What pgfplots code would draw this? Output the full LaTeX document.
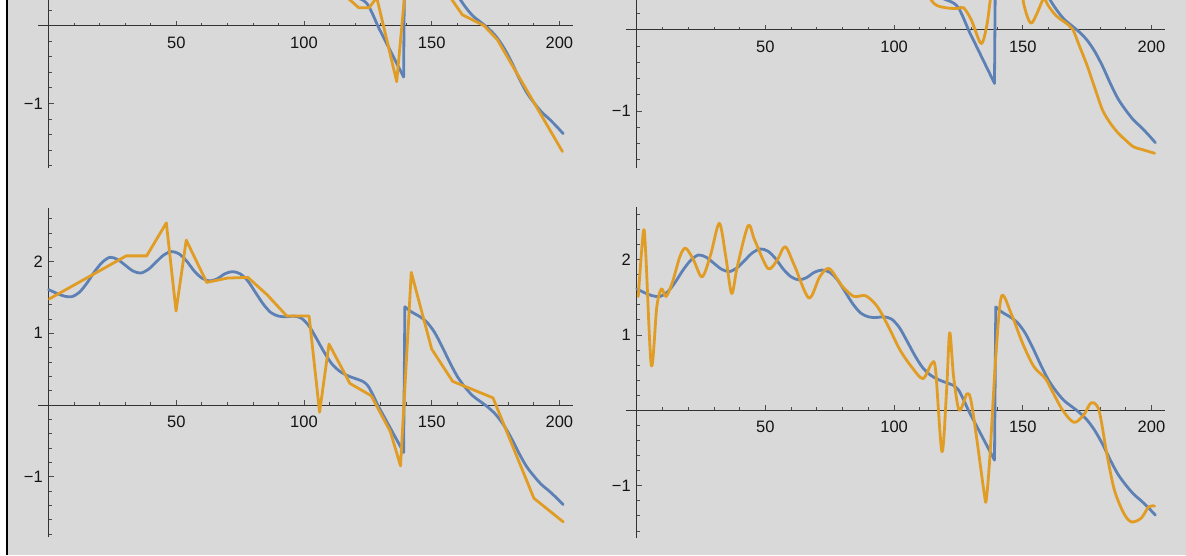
\documentclass[border=0pt]{standalone}
\usepackage{fontspec}
\setmainfont{Liberation Sans}
\usepackage{pgfplots}
\usepackage{pgfplotstable}
\pgfplotsset{compat=1.18}
\definecolor{mmaB}{RGB}{94,129,181}
\definecolor{mmaO}{RGB}{225,156,36}
\definecolor{bg}{RGB}{217,217,217}

% the common blue curve, with its jump at x=139
\pgfplotstableread{
x y
0 1.61
3 1.56
6 1.52
9 1.51
12 1.57
15 1.70
18 1.86
21 1.99
24 2.06
27 2.03
30 1.95
33 1.87
36 1.84
39 1.89
42 1.99
45 2.09
48 2.14
51 2.11
54 2.01
57 1.87
60 1.77
63 1.73
66 1.76
69 1.83
72 1.86
75 1.83
78 1.73
81 1.57
84 1.41
87 1.29
90 1.24
93 1.23
96 1.24
99 1.21
102 1.10
105 0.92
108 0.73
111 0.57
114 0.47
117 0.41
120 0.37
123 0.33
125 0.27
127 0.14
129 -0.01
131 -0.14
133 -0.27
135 -0.40
137 -0.53
139 -0.66
}\blueA
\pgfplotstableread{
x y
139.5 1.37
142 1.30
145 1.24
148 1.16
151 1.02
154 0.82
157 0.60
160 0.40
163 0.25
166 0.13
169 0.05
172 -0.03
175 -0.13
178 -0.27
181 -0.45
184 -0.66
187 -0.85
190 -0.99
193 -1.11
196 -1.20
199 -1.30
201.5 -1.39
}\blueB
\pgfplotstableread{
x y
139 -0.66
139.5 1.37
}\blueJ

% top left orange (piecewise linear, mostly above the crop)
\pgfplotstableread{
x y
110 0.90
117 0.36
121.5 0.23
125.5 0.23
127.5 0.32
128.5 0.36
136.3 -0.72
140 0.60
144 1.50
152 1.20
158 0.33
162 0.14
170.5 0.00
175.7 -0.18
201.2 -1.62
}\orTL

% top right orange (smooth, mostly above the crop)
\pgfplotstableread{
x y
108 0.90
113 0.45
116 0.31
120 0.27
124.6 0.26
127 0.27
130 0.12
133.8 -0.17
136 0.05
137.5 0.40
140 1.00
147 0.90
150.5 0.30
153.1 0.08
155.5 0.20
157.5 0.35
158.5 0.38
159.8 0.30
163 0.17
167.7 0.06
169.5 0.00
172 -0.20
175.1 -0.45
178 -0.72
181 -0.99
184 -1.15
187 -1.27
190 -1.36
193 -1.44
197 -1.48
201.2 -1.52
}\orTR

% bottom left orange (piecewise linear)
\pgfplotstableread{
x y
0.3 1.48
30.4 2.08
38.4 2.08
46.1 2.54
49.9 1.31
53.9 2.30
61.9 1.71
70 1.77
78 1.78
85.5 1.54
93.3 1.24
102 1.24
106.1 -0.10
109.8 0.85
118 0.30
126.3 0.13
133.8 -0.37
137.8 -0.85
142 1.85
150 0.78
158.2 0.33
174 0.10
190 -1.30
201.5 -1.63
}\orBL

% bottom right orange (smooth)
\pgfplotstableread{
x y
0.6 1.51
2.6 2.37
3.5 2.09
5.7 0.59
7.8 1.37
9.6 1.61
11.4 1.51
13.8 1.69
16.8 2.04
19 2.15
22 2.00
25.4 1.77
28.7 2.06
32.1 2.48
34.6 2.04
36.9 1.55
39.1 1.91
43.3 2.45
45.8 2.26
51 1.88
54.7 2.00
57.7 2.17
61.4 1.91
66.9 1.49
71.1 1.77
74.8 1.88
80 1.64
84.4 1.51
88.9 1.52
93.4 1.38
97.8 1.11
102.3 0.80
106.7 0.58
111.2 0.42
114.6 0.62
116.1 0.54
118.6 -0.55
120.4 0.27
121.6 1.03
123.1 0.45
125.3 0.00
128.3 0.22
129.8 0.14
132 -0.35
135 -1.10
135.8 -1.19
137.2 -0.62
139.5 0.71
141.7 1.51
145.4 1.29
149.9 0.89
154.3 0.58
158.8 0.42
161.8 0.23
165.5 0.00
169.9 -0.16
173.7 -0.06
176.6 0.10
179.6 0.00
182.6 -0.57
185.6 -1.06
189.3 -1.37
192.2 -1.48
196 -1.43
198.9 -1.28
201.2 -1.27
}\orBR

\pgfplotsset{mma/.style={
  axis lines=middle,
  axis line style={-, black!80, line width=0.9pt},
  every inner x axis line/.append style={-},
  every inner y axis line/.append style={-},
  tick align=inside,
  tick style={black!70, line width=0.8pt},
  major tick length=5pt, minor tick length=3pt,
  xtick={50,100,150,200}, xticklabels={50,100,150,200},
  minor xtick={10,20,...,200},
  ytick={-1,1,2}, yticklabels={−1,1,2},
  minor ytick={-1.8,-1.6,...,2.61},
  tick label style={font=\fontsize{16.5}{18}\selectfont, text=black!92},
  xticklabel style={anchor=north, inner sep=0pt, yshift=-10.7pt},
  yticklabel style={anchor=east, inner sep=0pt, xshift=-5.7pt},
  xmin=-4, xmax=205.4,
  anchor=south west,
  every axis plot/.append style={line width=2.8pt, line join=round, line cap=round, no marks},
}}

\begin{document}
\begin{tikzpicture}[x=1pt,y=1pt]
\useasboundingbox (0,0) rectangle (1186,555);
\clip (0,0) rectangle (1186,555);
\fill[white] (0,0) rectangle (8,555);
\fill[bg] (6,0) rectangle (1186,555);
\draw[black, line width=2.3pt] (6.9,0) -- (6.9,555);

% top left (cut off above y = 0.33)
\begin{axis}[mma, at={(38.38pt,387.11pt)}, x=2.554pt, y=77.7pt, ymin=-1.83, ymax=2.74,
  ytick={-1}, yticklabels={−1}]
  \addplot[mmaB, smooth] table {\blueA};
  \addplot[mmaB, sharp plot] table {\blueJ};
  \addplot[mmaB, smooth] table {\blueB};
  \addplot[mmaO, sharp plot] table {\orTL};
\end{axis}

% top right (cut off above y = 0.36)
\begin{axis}[mma, at={(626.40pt,386.68pt)}, x=2.574pt, y=81.3pt, ymin=-1.705, ymax=2.69,
  ytick={-1}, yticklabels={−1}]
  \addplot[mmaB, smooth] table {\blueA};
  \addplot[mmaB, sharp plot] table {\blueJ};
  \addplot[mmaB, smooth] table {\blueB};
  \addplot[mmaO, smooth] table {\orTR};
\end{axis}

% bottom left
\begin{axis}[mma, at={(38.38pt,17.71pt)}, x=2.554pt, y=71.7pt, ymin=-1.845, ymax=2.75]
  \addplot[mmaB, smooth] table {\blueA};
  \addplot[mmaB, sharp plot] table {\blueJ};
  \addplot[mmaB, smooth] table {\blueB};
  \addplot[mmaO, sharp plot] table {\orBL};
\end{axis}

% bottom right
\begin{axis}[mma, at={(626.40pt,17.27pt)}, x=2.574pt, y=75.4pt, ymin=-1.69, ymax=2.69]
  \addplot[mmaB, smooth] table {\blueA};
  \addplot[mmaB, sharp plot] table {\blueJ};
  \addplot[mmaB, smooth] table {\blueB};
  \addplot[mmaO, smooth] table {\orBR};
\end{axis}
\end{tikzpicture}
\end{document}
